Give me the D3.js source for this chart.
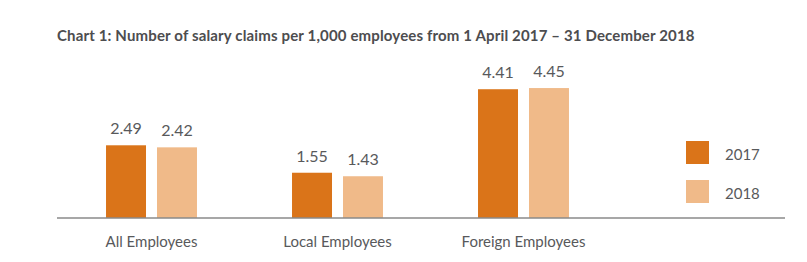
<!DOCTYPE html>
<html>
<head>
<meta charset="utf-8">
<script src="https://cdn.jsdelivr.net/npm/d3@7"></script>
<style>
  body { margin: 0; background: #fff; }
  svg { display: block; font-family: Lato, "Open Sans", sans-serif; }
</style>
</head>
<body>
<div id="chart"></div>
<script>
const categories = ["All Employees", "Local Employees", "Foreign Employees"];
const years = ["2017", "2018"];
const values2017 = [2.49, 1.55, 4.41];
const values2018 = [2.42, 1.43, 4.45];
const colors = ["#DA7419", "#F0BA89"];

const width = 807, height = 262;
const baseY = 218;

const svg = d3.select("#chart").append("svg")
    .attr("width", width)
    .attr("height", height);

// title
svg.append("text")
    .attr("x", 57)
    .attr("y", 41)
    .attr("font-size", 15)
    .attr("letter-spacing", 0.15)
    .attr("font-weight", "bold")
    .attr("fill", "#4d4d4f")
    .text("Chart 1: Number of salary claims per 1,000 employees from 1 April 2017 \u2013 31 December 2018");

const x0 = d3.scaleBand()
    .domain(categories)
    .range([58.5, 616.5])
    .paddingInner(0.511)
    .paddingOuter(0.2555);

const x1 = d3.scaleBand()
    .domain(years)
    .range([0, x0.bandwidth()])
    .paddingInner(0.2157);

const y = d3.scaleLinear()
    .domain([0, 5])
    .range([baseY, baseY - 5 * 29.2]);

const rows = categories.map((c, i) => ({
    cat: c,
    vals: [
        { year: years[0], v: values2017[i], color: colors[0] },
        { year: years[1], v: values2018[i], color: colors[1] }
    ]
}));

const groups = svg.append("g")
    .selectAll("g")
    .data(rows)
    .enter().append("g")
    .attr("transform", d => `translate(${x0(d.cat)},0)`);

groups.selectAll("rect")
    .data(d => d.vals)
    .enter().append("rect")
    .attr("x", d => x1(d.year))
    .attr("y", d => y(d.v))
    .attr("width", x1.bandwidth())
    .attr("height", d => y(0) - y(d.v))
    .attr("fill", d => d.color);

groups.selectAll("text.val")
    .data(d => d.vals)
    .enter().append("text")
    .attr("class", "val")
    .attr("x", d => x1(d.year) + x1.bandwidth() / 2)
    .attr("y", d => y(d.v) - 11)
    .attr("text-anchor", "middle")
    .attr("font-size", 16)
    .attr("fill", "#58595b")
    .text(d => d.v.toFixed(2));

// baseline
svg.append("line")
    .attr("x1", 57).attr("x2", 785)
    .attr("y1", baseY).attr("y2", baseY)
    .attr("stroke", "#8a8a8a")
    .attr("stroke-width", 1.5);

// category labels
svg.append("g")
    .selectAll("text")
    .data(categories)
    .enter().append("text")
    .attr("x", d => x0(d) + x0.bandwidth() / 2)
    .attr("y", 247)
    .attr("text-anchor", "middle")
    .attr("font-size", 15)
    .attr("fill", "#58595b")
    .text(d => d);

// legend
const legend = svg.append("g")
    .selectAll("g")
    .data(years)
    .enter().append("g")
    .attr("transform", (d, i) => `translate(686,${141 + i * 39})`);

legend.append("rect")
    .attr("width", 23)
    .attr("height", 23)
    .attr("fill", (d, i) => colors[i]);

legend.append("text")
    .attr("x", 39)
    .attr("y", 19)
    .attr("font-size", 15)
    .attr("fill", "#58595b")
    .text(d => d);
</script>
</body>
</html>
